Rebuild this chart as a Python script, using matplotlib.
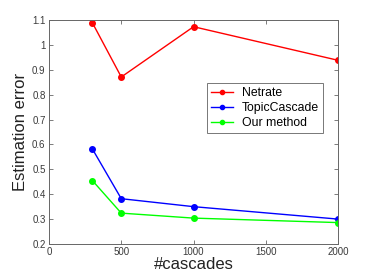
import matplotlib
matplotlib.use("Agg")
import matplotlib.pyplot as plt

plt.rcParams['font.family'] = ['Liberation Sans', 'DejaVu Sans']

x = [300, 500, 1000, 2000]
netrate = [1.089, 0.871, 1.073, 0.938]
topic = [0.582, 0.382, 0.350, 0.300]
ours = [0.455, 0.324, 0.304, 0.286]
labels = ['Netrate', 'TopicCascade', 'Our method']

fig = plt.figure(figsize=(3.74, 2.8), dpi=100)
ax = fig.add_axes([0.131, 0.1286, 0.773, 0.80])
ax.plot(x, netrate, '-o', color='#ff0000', lw=1.0, ms=4, label=labels[0])
ax.plot(x, topic, '-o', color='#0000ff', lw=1.0, ms=4, label=labels[1])
ax.plot(x, ours, '-o', color='#00ff00', lw=1.0, ms=4, label=labels[2])

ax.set_xlim(0, 2000)
ax.set_ylim(0.2, 1.1)
ax.set_xticks([0, 500, 1000, 1500, 2000])
ax.set_yticks([0.2, 0.3, 0.4, 0.5, 0.6, 0.7, 0.8, 0.9, 1.0, 1.1])
ax.set_yticklabels(['0.2', '0.3', '0.4', '0.5', '0.6', '0.7', '0.8', '0.9', '1', '1.1'])
gc = '#666666'
ax.tick_params(direction='in', top=True, right=True, labelsize=7, colors='#3a3a3a',
               length=3, width=0.6, color=gc, pad=2.5)
for s in ax.spines.values():
    s.set_color(gc)
    s.set_linewidth(0.7)
ax.set_xlabel('#cascades', fontsize=12, color='#222222', labelpad=0)
ax.set_ylabel('Estimation error', fontsize=12, color='#222222', labelpad=3)

leg = ax.legend(loc='upper left', bbox_to_anchor=(0.547, 0.72), fontsize=8.8,
                frameon=True, fancybox=False, borderpad=0.35, labelspacing=0.25,
                handlelength=1.8, handletextpad=0.7, borderaxespad=0, markerscale=0.75)
leg.get_frame().set_edgecolor('#555555')
leg.get_frame().set_linewidth(0.7)

fig.savefig('out.png', dpi=100)
